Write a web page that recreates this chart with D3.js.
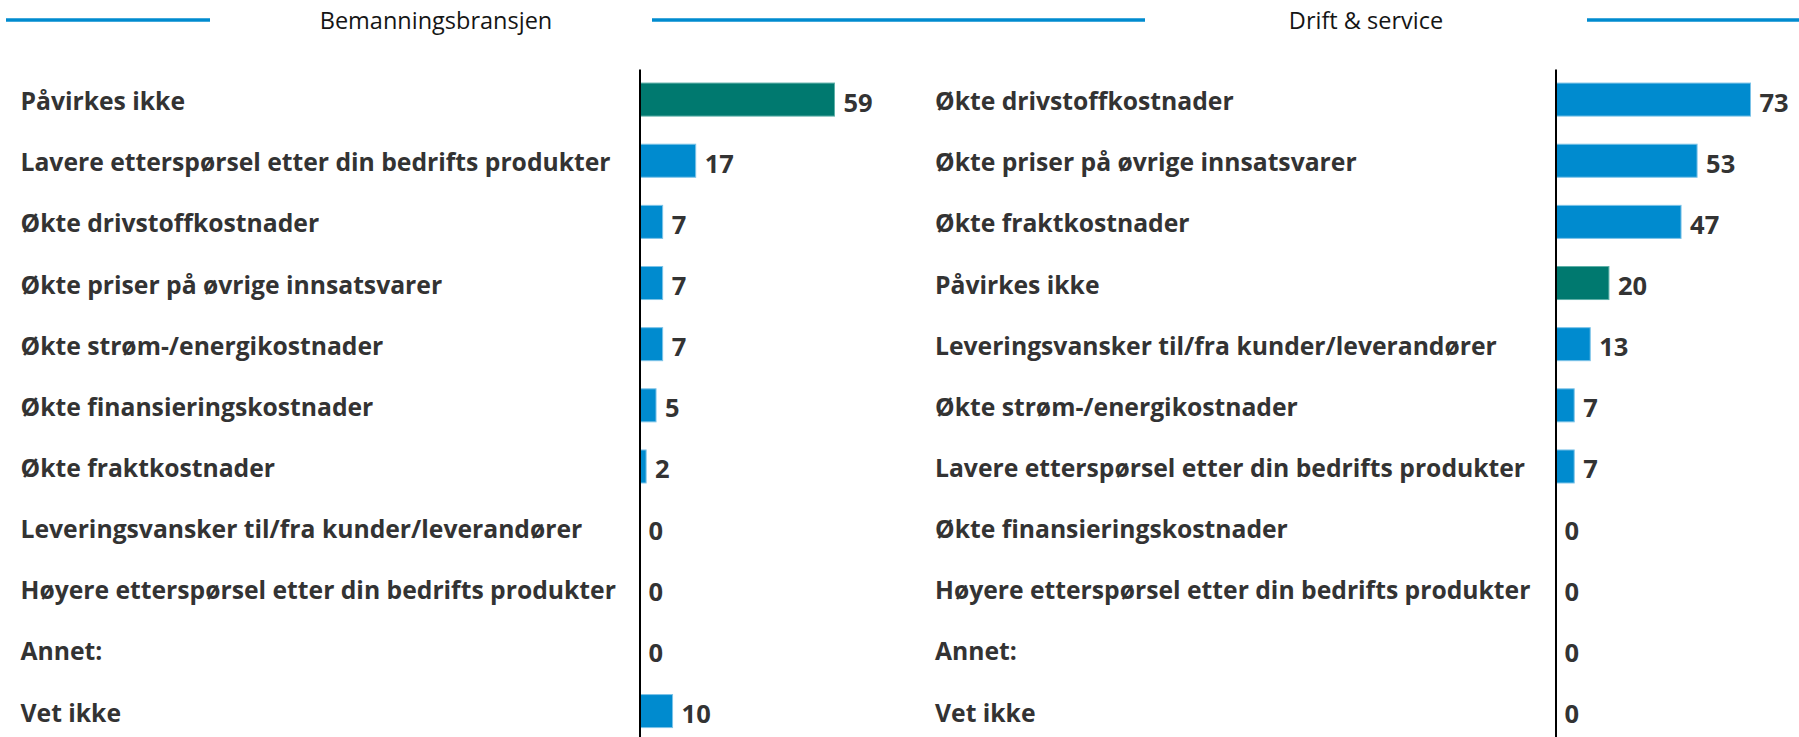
<!DOCTYPE html>
<html><head><meta charset="utf-8">
<script src="https://cdn.jsdelivr.net/npm/d3@7"></script>
<style>
html,body{margin:0;padding:0;background:#fff;}
svg{display:block;font-family:"Open Sans","Noto Sans",sans-serif;}
</style></head>
<body>
<svg id="chart" width="1799" height="737"></svg>
<script>
const panelTitles = ["Bemanningsbransjen", "Drift & service"];
const leftCategories = [
  "Påvirkes ikke",
  "Lavere etterspørsel etter din bedrifts produkter",
  "Økte drivstoffkostnader",
  "Økte priser på øvrige innsatsvarer",
  "Økte strøm-/energikostnader",
  "Økte finansieringskostnader",
  "Økte fraktkostnader",
  "Leveringsvansker til/fra kunder/leverandører",
  "Høyere etterspørsel etter din bedrifts produkter",
  "Annet:",
  "Vet ikke"
];
const leftValues = [59, 17, 7, 7, 7, 5, 2, 0, 0, 0, 10];
const rightCategories = [
  "Økte drivstoffkostnader",
  "Økte priser på øvrige innsatsvarer",
  "Økte fraktkostnader",
  "Påvirkes ikke",
  "Leveringsvansker til/fra kunder/leverandører",
  "Økte strøm-/energikostnader",
  "Lavere etterspørsel etter din bedrifts produkter",
  "Økte finansieringskostnader",
  "Høyere etterspørsel etter din bedrifts produkter",
  "Annet:",
  "Vet ikke"
];
const rightValues = [73, 53, 47, 20, 13, 7, 7, 0, 0, 0, 0];
const highlightCategory = "Påvirkes ikke";

const BLUE = "#008BCF", TEAL = "#00796F", TEXT = "#333333";
const svg = d3.select("#chart");

const panels = [
  {title: panelTitles[0], cats: leftCategories, vals: leftValues, labelX: 20.5, axisX: 639.5, titleX: 436,
   lines: [[6, 210], [652, 1145]]},
  {title: panelTitles[1], cats: rightCategories, vals: rightValues, labelX: 935, axisX: 1555.5, titleX: 1366,
   lines: [[1587, 1799]]}
];

const lineY = 20;
panels.forEach(p => {
  p.lines.forEach(l => {
    svg.append("line").attr("x1", l[0]).attr("x2", l[1]).attr("y1", lineY).attr("y2", lineY)
      .attr("stroke", BLUE).attr("stroke-width", 3.5);
  });
  svg.append("text").attr("x", p.titleX).attr("y", lineY + 8.5).attr("text-anchor", "middle")
    .attr("font-size", 23.5).attr("fill", "#151515").text(p.title);

  const y = d3.scaleBand().domain(p.cats).range([69, 69 + 11 * 61.15]).paddingInner(0.46).paddingOuter(0.23);
  const x = d3.scaleLinear().domain([0, d3.max(p.vals)]).range([p.axisX, p.axisX + 195]);
  const data = p.cats.map((c, i) => ({c, v: p.vals[i]}));
  const g = svg.append("g");

  g.selectAll("text.lbl").data(data).join("text").attr("class", "lbl")
    .attr("x", p.labelX).attr("y", d => y(d.c) + y.bandwidth() / 2 + 10.5)
    .attr("font-size", 24.7).attr("font-weight", "bold")
    .attr("fill", TEXT).text(d => d.c);

  g.selectAll("rect").data(data).join("rect")
    .attr("x", x(0)).attr("y", d => y(d.c)).attr("height", y.bandwidth())
    .attr("width", d => x(d.v) - x(0))
    .attr("fill", d => d.c === highlightCategory ? TEAL : BLUE)
    .attr("stroke", d => d.v > 0 ? (d.c === highlightCategory ? "#5fb0a8" : "#7cc3e8") : "none")
    .attr("stroke-width", 1);

  g.selectAll("text.val").data(data).join("text").attr("class", "val")
    .attr("x", d => x(d.v) + 9).attr("y", d => y(d.c) + y.bandwidth() / 2 + 12)
    .attr("font-size", 25.5).attr("font-weight", "bold")
    .attr("fill", TEXT).text(d => d.v);

  const axis = d3.axisLeft(y).tickSize(0).tickFormat("");
  const ag = svg.append("g").attr("transform", `translate(${p.axisX},0)`).call(axis);
  ag.select(".domain").attr("stroke", "#000").attr("stroke-width", 2);
});
</script>
</body></html>
